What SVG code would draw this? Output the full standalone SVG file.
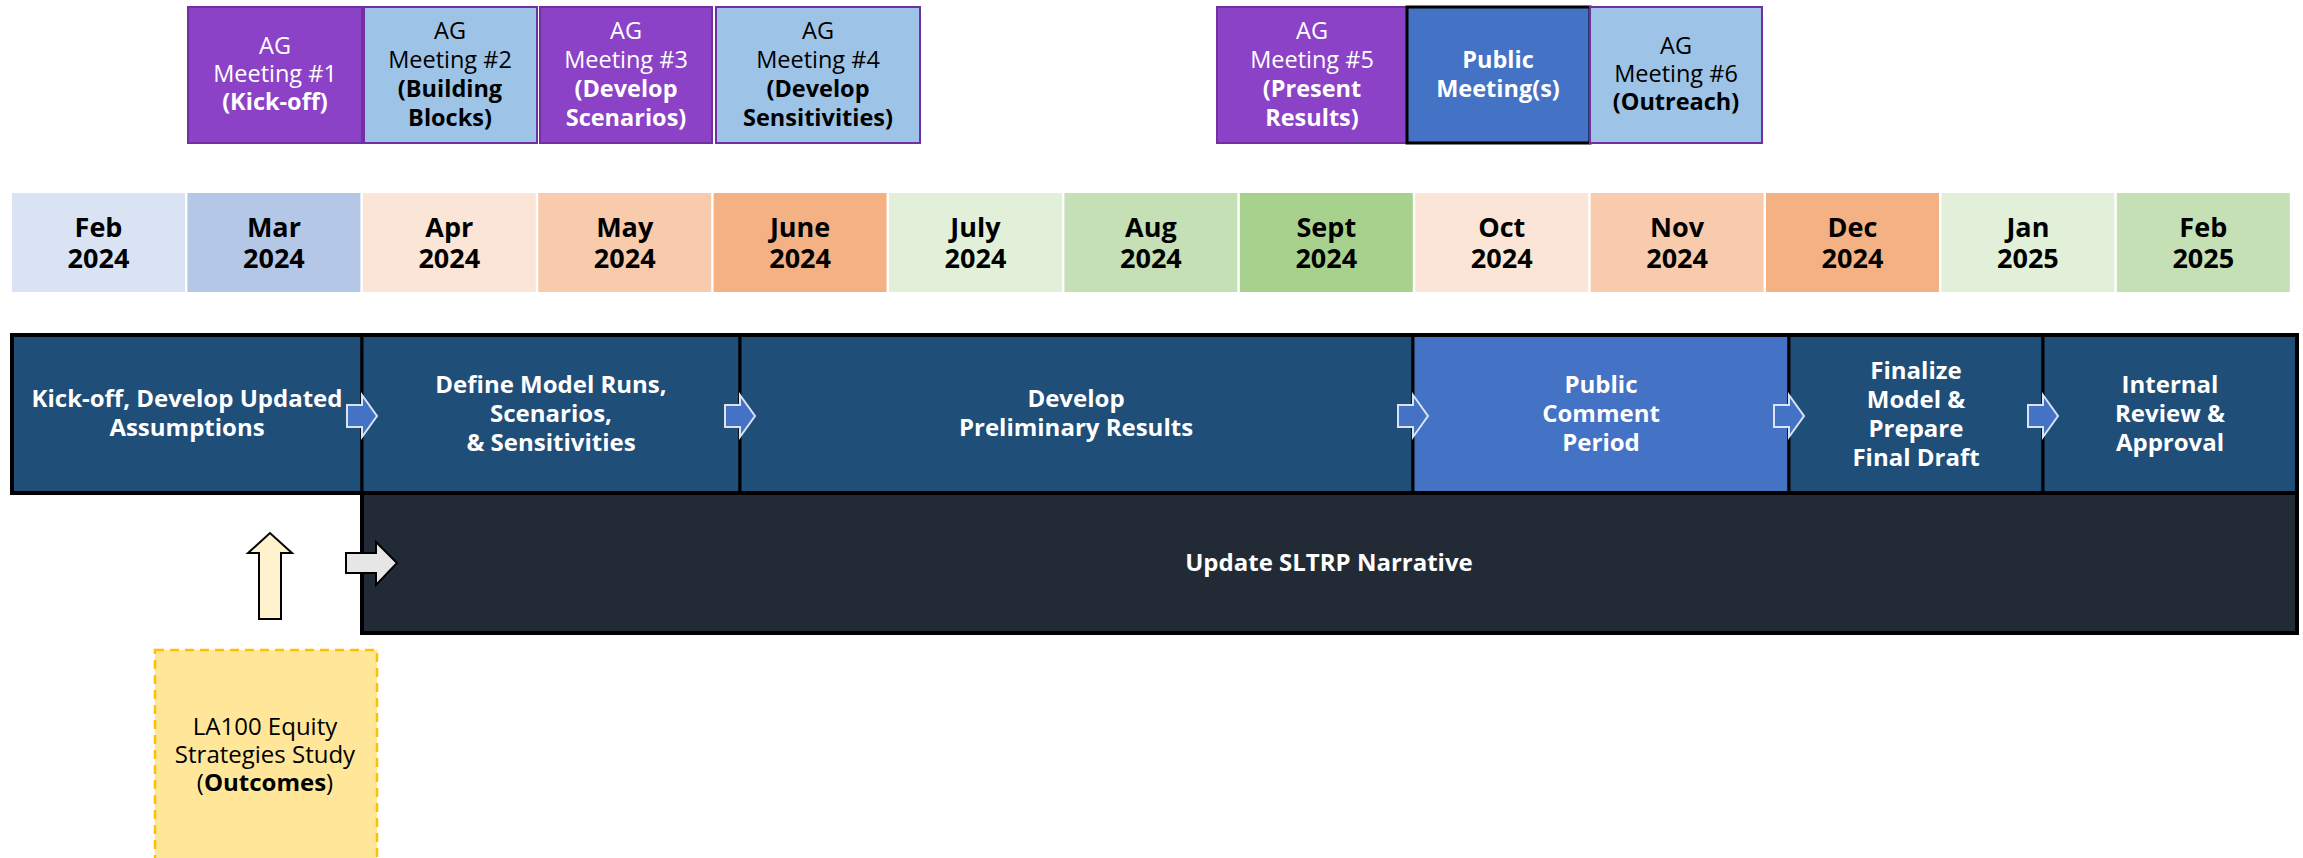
<svg xmlns="http://www.w3.org/2000/svg" width="2303" height="858" viewBox="0 0 2303 858">
  <style>
    text { font-family: "Open Sans", "Liberation Sans", sans-serif; text-anchor: middle; }
    .ag-purple { fill: #8B42C6; stroke: #7030A0; stroke-width: 2; }
    .ag-blue { fill: #9DC3E6; stroke: #7030A0; stroke-width: 2; }
    .ag-txt { font-size: 23.5px; font-weight: 400; }
    .b { font-weight: 700; }
    .w { fill: #ffffff; }
    .k { fill: #000000; }
    .month rect { stroke: none; }
    .month text { font-size: 27px; font-weight: 700; fill: #000; }
    .phase rect { fill: #1F4E79; stroke: #000; stroke-width: 3; }
    .phase text { font-size: 24px; font-weight: 700; fill: #fff; }
    .step { fill: #4472C4; stroke: #DAE3F3; stroke-width: 2; }
  </style>

  <!-- Advisory group and public meetings -->
  <g id="ag1">
    <rect class="ag-purple" x="188" y="7" width="174" height="136"/>
    <text class="ag-txt w" x="275" y="54">AG</text>
    <text class="ag-txt w" x="275" y="82">Meeting #1</text>
    <text class="ag-txt w b" x="275" y="110">(Kick-off)</text>
  </g>
  <g id="ag2">
    <rect class="ag-blue" x="364" y="7" width="173" height="136"/>
    <text class="ag-txt k" x="450" y="39">AG</text>
    <text class="ag-txt k" x="450" y="68">Meeting #2</text>
    <text class="ag-txt k b" x="450" y="97">(Building</text>
    <text class="ag-txt k b" x="450" y="126">Blocks)</text>
  </g>
  <g id="ag3">
    <rect class="ag-purple" x="540" y="7" width="172" height="136"/>
    <text class="ag-txt w" x="626" y="39">AG</text>
    <text class="ag-txt w" x="626" y="68">Meeting #3</text>
    <text class="ag-txt w b" x="626" y="97">(Develop</text>
    <text class="ag-txt w b" x="626" y="126">Scenarios)</text>
  </g>
  <g id="ag4">
    <rect class="ag-blue" x="716" y="7" width="204" height="136"/>
    <text class="ag-txt k" x="818" y="39">AG</text>
    <text class="ag-txt k" x="818" y="68">Meeting #4</text>
    <text class="ag-txt k b" x="818" y="97">(Develop</text>
    <text class="ag-txt k b" x="818" y="126">Sensitivities)</text>
  </g>
  <g id="ag5">
    <rect class="ag-purple" x="1217" y="7" width="190" height="136"/>
    <text class="ag-txt w" x="1312" y="39">AG</text>
    <text class="ag-txt w" x="1312" y="68">Meeting #5</text>
    <text class="ag-txt w b" x="1312" y="97">(Present</text>
    <text class="ag-txt w b" x="1312" y="126">Results)</text>
  </g>
  <g id="public-meetings">
    <rect x="1407" y="7" width="183" height="136" fill="#4472C4" stroke="#000" stroke-width="3"/>
    <text class="ag-txt w b" x="1498" y="68">Public</text>
    <text class="ag-txt w b" x="1498" y="97">Meeting(s)</text>
  </g>
  <g id="ag6">
    <rect class="ag-blue" x="1590" y="7" width="172" height="136"/>
    <text class="ag-txt k" x="1676" y="54">AG</text>
    <text class="ag-txt k" x="1676" y="82">Meeting #6</text>
    <text class="ag-txt k b" x="1676" y="110">(Outreach)</text>
  </g>

  <!-- Month timeline -->
  <g id="months" class="month">
    <g id="m-feb-2024"><rect x="12" y="193" width="173" height="99" fill="#DAE3F3"/><text x="98.5" y="237">Feb</text><text x="98.5" y="268">2024</text></g>
    <g id="m-mar-2024"><rect x="187.4" y="193" width="173" height="99" fill="#B4C7E7"/><text x="273.9" y="237">Mar</text><text x="273.9" y="268">2024</text></g>
    <g id="m-apr-2024"><rect x="362.8" y="193" width="173" height="99" fill="#FBE5D6"/><text x="449.3" y="237">Apr</text><text x="449.3" y="268">2024</text></g>
    <g id="m-may-2024"><rect x="538.2" y="193" width="173" height="99" fill="#F8CBAD"/><text x="624.7" y="237">May</text><text x="624.7" y="268">2024</text></g>
    <g id="m-jun-2024"><rect x="713.6" y="193" width="173" height="99" fill="#F4B183"/><text x="800.1" y="237">June</text><text x="800.1" y="268">2024</text></g>
    <g id="m-jul-2024"><rect x="889" y="193" width="173" height="99" fill="#E2F0D9"/><text x="975.5" y="237">July</text><text x="975.5" y="268">2024</text></g>
    <g id="m-aug-2024"><rect x="1064.4" y="193" width="173" height="99" fill="#C5E0B4"/><text x="1150.9" y="237">Aug</text><text x="1150.9" y="268">2024</text></g>
    <g id="m-sep-2024"><rect x="1239.8" y="193" width="173" height="99" fill="#A9D18E"/><text x="1326.3" y="237">Sept</text><text x="1326.3" y="268">2024</text></g>
    <g id="m-oct-2024"><rect x="1415.2" y="193" width="173" height="99" fill="#FBE5D6"/><text x="1501.7" y="237">Oct</text><text x="1501.7" y="268">2024</text></g>
    <g id="m-nov-2024"><rect x="1590.6" y="193" width="173" height="99" fill="#F8CBAD"/><text x="1677.1" y="237">Nov</text><text x="1677.1" y="268">2024</text></g>
    <g id="m-dec-2024"><rect x="1766" y="193" width="173" height="99" fill="#F4B183"/><text x="1852.5" y="237">Dec</text><text x="1852.5" y="268">2024</text></g>
    <g id="m-jan-2025"><rect x="1941.4" y="193" width="173" height="99" fill="#E2F0D9"/><text x="2027.9" y="237">Jan</text><text x="2027.9" y="268">2025</text></g>
    <g id="m-feb-2025"><rect x="2116.8" y="193" width="173" height="99" fill="#C5E0B4"/><text x="2203.3" y="237">Feb</text><text x="2203.3" y="268">2025</text></g>
  </g>

  <!-- Work phases -->
  <g id="phase-kickoff" class="phase">
    <rect x="12" y="335" width="350" height="158"/>
    <text x="187" y="407">Kick-off, Develop Updated</text>
    <text x="187" y="436">Assumptions</text>
  </g>
  <g id="phase-define" class="phase">
    <rect x="362" y="335" width="378" height="158"/>
    <text x="551" y="393">Define Model Runs,</text>
    <text x="551" y="422">Scenarios,</text>
    <text x="551" y="451">&amp; Sensitivities</text>
  </g>
  <g id="phase-results" class="phase">
    <rect x="740" y="335" width="673" height="158"/>
    <text x="1076" y="407">Develop</text>
    <text x="1076" y="436">Preliminary Results</text>
  </g>
  <g id="phase-comment" class="phase">
    <rect x="1413" y="335" width="376" height="158" style="fill:#4472C4"/>
    <text x="1601" y="393">Public</text>
    <text x="1601" y="422">Comment</text>
    <text x="1601" y="451">Period</text>
  </g>
  <g id="phase-finalize" class="phase">
    <rect x="1789" y="335" width="254" height="158"/>
    <text x="1916" y="379">Finalize</text>
    <text x="1916" y="408">Model &amp;</text>
    <text x="1916" y="437">Prepare</text>
    <text x="1916" y="466">Final Draft</text>
  </g>
  <g id="phase-approval" class="phase">
    <rect x="2043" y="335" width="254" height="158"/>
    <text x="2170" y="393">Internal</text>
    <text x="2170" y="422">Review &amp;</text>
    <text x="2170" y="451">Approval</text>
  </g>
  <rect x="12" y="335" width="2285" height="158" fill="none" stroke="#000" stroke-width="4"/>

  <g id="narrative">
    <rect x="362" y="493" width="1935" height="140" fill="#222A35" stroke="#000" stroke-width="4"/>
    <text x="1329" y="571" font-size="24" font-weight="700" fill="#fff">Update SLTRP Narrative</text>
  </g>

  <g id="equity-study">
    <rect x="155" y="650" width="222" height="215" fill="#FFE699" stroke="#FFC000" stroke-width="2.5" stroke-dasharray="9 6"/>
    <text x="265" y="735" font-size="24" fill="#000">LA100 Equity</text>
    <text x="265" y="763" font-size="24" fill="#000">Strategies Study</text>
    <text x="265" y="791" font-size="24" fill="#000">(<tspan font-weight="700">Outcomes</tspan>)</text>
  </g>

  <!-- Connectors: block arrows between phases and into the narrative -->
  <g id="connectors">
    <path class="step" d="M347,405 H362 V395 L377,416 L362,437 V427 H347 Z"/>
    <path class="step" d="M725,405 H740 V395 L755,416 L740,437 V427 H725 Z"/>
    <path class="step" d="M1398,405 H1413 V395 L1428,416 L1413,437 V427 H1398 Z"/>
    <path class="step" d="M1774,405 H1789 V395 L1804,416 L1789,437 V427 H1774 Z"/>
    <path class="step" d="M2028,405 H2043 V395 L2058,416 L2043,437 V427 H2028 Z"/>
    <path d="M346,553 H376 V542 L397,563 L376,585 V573 H346 Z" fill="#E7E6E6" stroke="#000" stroke-width="2"/>
    <path d="M259,619 V553 H248 L270,533 L292,553 H281 V619 Z" fill="#FFF2CC" stroke="#000" stroke-width="2"/>
  </g>
</svg>
